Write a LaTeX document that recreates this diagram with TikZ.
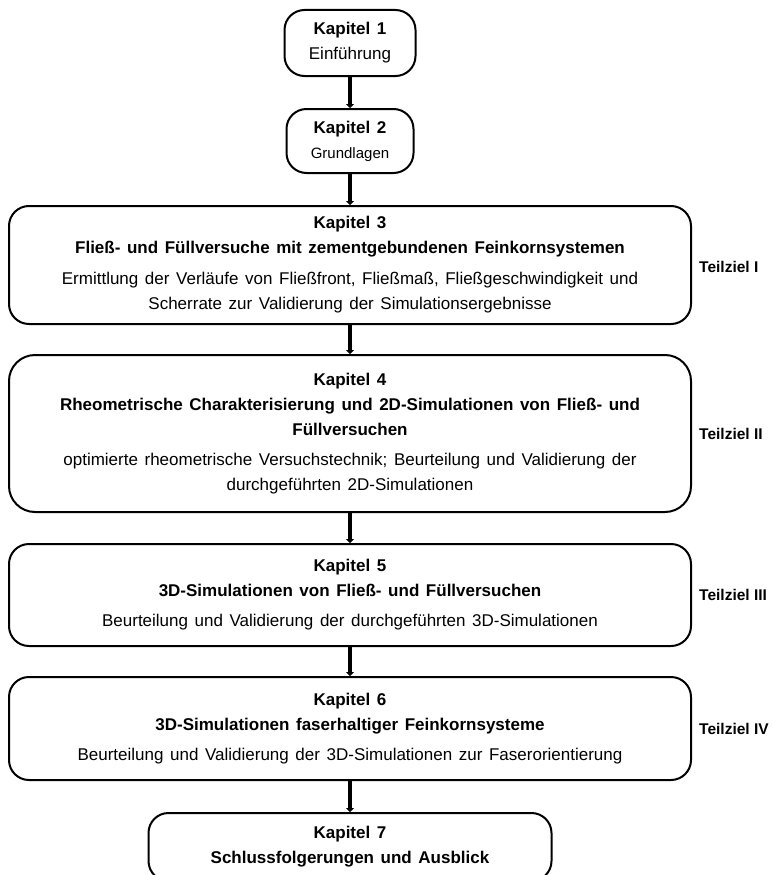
\documentclass[tikz,border=0pt]{standalone}
\usepackage{fontspec}
\setmainfont{Liberation Sans}
\usetikzlibrary{arrows.meta}
\newcommand{\kapschrift}{\fontsize{17}{25}\selectfont\spaceskip=6.6pt plus 1pt minus 1pt\relax}
\tikzset{
  kapbox/.style={draw, line width=2pt, rounded corners=20pt, align=center, inner sep=0pt,
    font=\kapschrift},
  pfeil/.style={line width=3.5pt, -{Triangle[length=4pt,width=8pt]}},
  ziel/.style={anchor=west, inner sep=0pt, font=\fontsize{15.5}{18}\selectfont\bfseries}
}
\begin{document}
\begin{tikzpicture}[x=1pt,y=-1pt]
  \useasboundingbox (0,0) rectangle (772,875);
  \node[kapbox, minimum width=131pt, minimum height=66pt] (k1) at (350,43)
    {\textbf{Kapitel 1}\\Einführung};
  \node[kapbox, minimum width=127pt, minimum height=64pt] (k2) at (350,141)
    {\textbf{Kapitel 2}\\{\fontsize{15}{18}\selectfont Grundlagen}};
  \node[kapbox, minimum width=682pt, minimum height=118pt] (k3) at (350,265)
    {\textbf{Kapitel 3}\\
     \textbf{Fließ- und Füllversuche mit zementgebundenen Feinkornsystemen}\\[6pt]
     Ermittlung der Verläufe von Fließfront, Fließmaß, Fließgeschwindigkeit und\\
     Scherrate zur Validierung der Simulationsergebnisse};
  \node[kapbox, rounded corners=26pt, minimum width=682pt, minimum height=157pt] (k4) at (350,433.5)
    {\textbf{Kapitel 4}\\
     \textbf{Rheometrische Charakterisierung und 2D-Simulationen von Fließ- und}\\
     \textbf{Füllversuchen}\\[5pt]
     optimierte rheometrische Versuchstechnik; Beurteilung und Validierung der\\
     durchgeführten 2D-Simulationen};
  \node[kapbox, minimum width=682pt, minimum height=102pt] (k5) at (350,595)
    {\textbf{Kapitel 5}\\
     \textbf{3D-Simulationen von Fließ- und Füllversuchen}\\[5pt]
     Beurteilung und Validierung der durchgeführten 3D-Simulationen};
  \node[kapbox, minimum width=682pt, minimum height=103pt] (k6) at (350,728.5)
    {\textbf{Kapitel 6}\\
     \textbf{3D-Simulationen faserhaltiger Feinkornsysteme}\\[5pt]
     Beurteilung und Validierung der 3D-Simulationen zur Faserorientierung};
  \node[kapbox, minimum width=403pt, minimum height=68pt] (k7) at (350,847)
    {\textbf{Kapitel 7}\\
     \textbf{Schlussfolgerungen und Ausblick}};

  \node[ziel] (z1) at (699,267) {Teilziel I};
  \node[ziel] (z2) at (699,434) {Teilziel II};
  \node[ziel] (z3) at (699,595) {Teilziel III};
  \node[ziel] (z4) at (699,729) {Teilziel IV};

  \draw[pfeil] (k1) -- (k2);
  \draw[pfeil] (k2) -- (k3);
  \draw[pfeil] (k3) -- (k4);
  \draw[pfeil] (k4) -- (k5);
  \draw[pfeil] (k5) -- (k6);
  \draw[pfeil] (k6) -- (k7);
\end{tikzpicture}
\end{document}
